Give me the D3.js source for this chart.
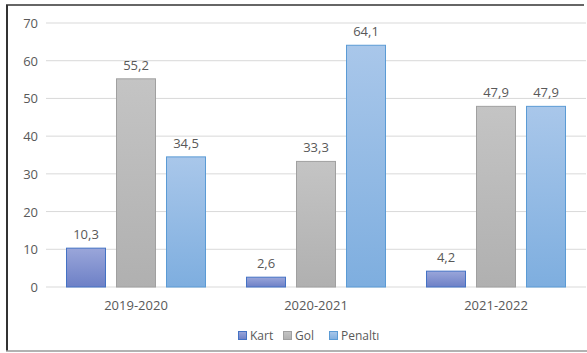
<!DOCTYPE html>
<html>
<head>
<meta charset="utf-8">
<script src="https://cdn.jsdelivr.net/npm/d3@7"></script>
<style>
  body { margin: 0; background: #fff; }
  text { font-family: "Open Sans", "Noto Sans", sans-serif; fill: #595959; }
</style>
</head>
<body>
<div id="chart"></div>
<script>
// Data
const seasons = ["2019-2020", "2020-2021", "2021-2022"];
const seriesNames = ["Kart", "Gol", "Penaltı"];
const kart = [10.3, 2.6, 4.2];
const gol = [55.2, 33.3, 47.9];
const penalti = [34.5, 64.1, 47.9];
const yTicks = [0, 10, 20, 30, 40, 50, 60, 70];

const seriesValues = [kart, gol, penalti];

// Layout
const width = 587;
const height = 353;
const plotLeft = 46;
const plotRight = 586;
const plotTop = 23;
const plotBottom = 287;

const svg = d3.select('#chart')
  .append('svg')
    .attr('width', width)
    .attr('height', height);

// Gradients for bar fills
const styles = [
  { id: 'gKart', top: '#9aa6da', bottom: '#6d80c6', stroke: '#4472c4' },
  { id: 'gGol', top: '#c4c4c4', bottom: '#b0b0b0', stroke: '#a0a0a0' },
  { id: 'gPen', top: '#a9c7ea', bottom: '#7eaedf', stroke: '#5b9bd5' }
];
const defs = svg.append('defs');
styles.forEach(s => {
  const g = defs.append('linearGradient')
    .attr('id', s.id)
    .attr('x1', 0).attr('y1', 0).attr('x2', 0).attr('y2', 1);
  g.append('stop').attr('offset', '0%').attr('stop-color', s.top);
  g.append('stop').attr('offset', '100%').attr('stop-color', s.bottom);
});

// Frame
svg.append('line')
  .attr('x1', 7).attr('y1', 5).attr('x2', 7).attr('y2', 351)
  .attr('stroke', '#333').attr('stroke-width', 2);
svg.append('line')
  .attr('x1', 6).attr('y1', 5).attr('x2', 584).attr('y2', 5)
  .attr('stroke', '#333').attr('stroke-width', 1.5);
svg.append('line')
  .attr('x1', 6).attr('y1', 351).attr('x2', 587).attr('y2', 351)
  .attr('stroke', '#999').attr('stroke-width', 1.5);

// Scales
const x0 = d3.scaleBand()
  .domain(seasons)
  .range([plotLeft, plotRight]);

const x1 = d3.scaleBand()
  .domain(seriesNames)
  .range([20, x0.bandwidth() - 20])
  .paddingInner(0.2);

const y = d3.scaleLinear()
  .domain([0, 70])
  .range([plotBottom, plotTop]);

// Gridlines
svg.append('g')
  .selectAll('line')
  .data(yTicks)
  .join('line')
    .attr('x1', plotLeft)
    .attr('x2', plotRight)
    .attr('y1', d => y(d))
    .attr('y2', d => y(d))
    .attr('stroke', '#d9d9d9')
    .attr('stroke-width', 1);

// Y tick labels
svg.append('g')
  .selectAll('text')
  .data(yTicks)
  .join('text')
    .attr('x', 38)
    .attr('y', d => y(d) + 5)
    .attr('text-anchor', 'end')
    .style('font-size', '13px')
    .text(d => d);

// Bars
const groups = svg.append('g')
  .selectAll('g')
  .data(seasons)
  .join('g')
    .attr('transform', d => `translate(${x0(d)},0)`);

groups.selectAll('rect')
  .data((d, i) => seriesNames.map((s, j) => ({ name: s, value: seriesValues[j][i], j })))
  .join('rect')
    .attr('x', d => x1(d.name) + 0.5)
    .attr('y', d => y(d.value))
    .attr('width', x1.bandwidth() - 1)
    .attr('height', d => y(0) - y(d.value))
    .attr('fill', d => `url(#${styles[d.j].id})`)
    .attr('stroke', d => styles[d.j].stroke)
    .attr('stroke-width', 1);

groups.selectAll('text')
  .data((d, i) => seriesNames.map((s, j) => ({ name: s, value: seriesValues[j][i] })))
  .join('text')
    .attr('x', d => x1(d.name) + x1.bandwidth() / 2)
    .attr('y', d => y(d.value) - 9)
    .attr('text-anchor', 'middle')
    .style('font-size', '13px')
    .text(d => String(d.value).replace('.', ','));

// Category labels
svg.append('g')
  .selectAll('text')
  .data(seasons)
  .join('text')
    .attr('x', d => x0(d) + x0.bandwidth() / 2)
    .attr('y', 310)
    .attr('text-anchor', 'middle')
    .style('font-size', '13px')
    .text(d => d);

// Legend
const legendX = [238, 283, 329];
const legend = svg.append('g')
  .selectAll('g')
  .data(seriesNames)
  .join('g')
    .attr('transform', (d, i) => `translate(${legendX[i]},331)`);
legend.append('rect')
  .attr('x', 0.5).attr('y', 0.5)
  .attr('width', 8).attr('height', 8)
  .attr('fill', (d, i) => `url(#${styles[i].id})`)
  .attr('stroke', (d, i) => styles[i].stroke);
legend.append('text')
  .attr('x', 12)
  .attr('y', 9)
  .style('font-size', '12px')
  .text(d => d);
</script>
</body>
</html>
